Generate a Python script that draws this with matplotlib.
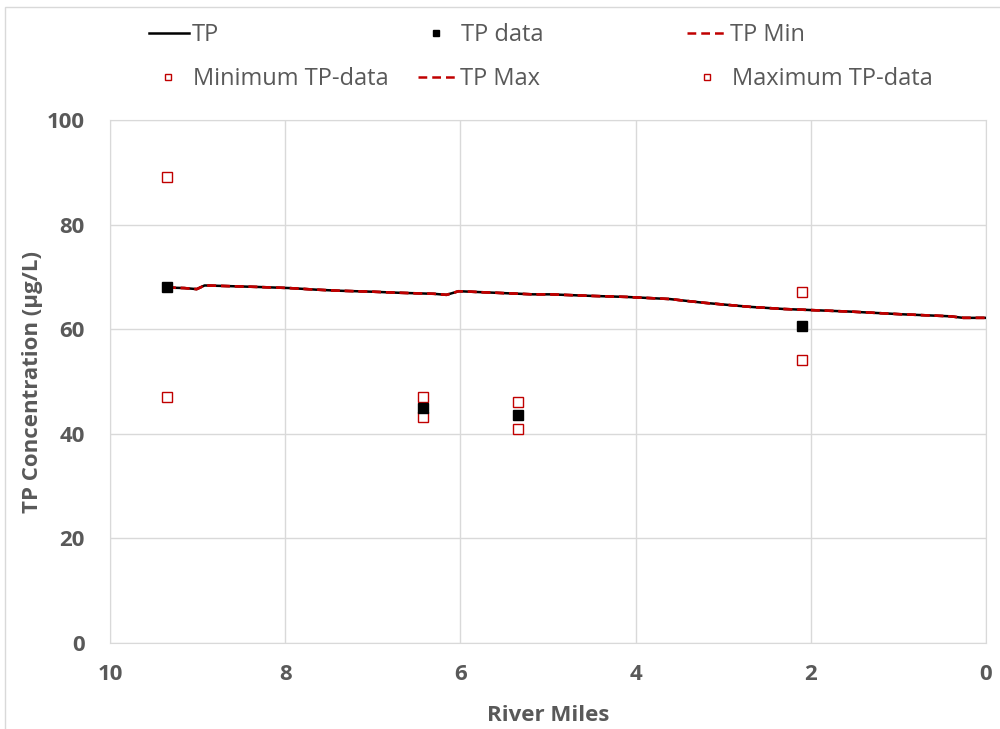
import matplotlib.pyplot as plt
from matplotlib.patches import Rectangle

# model profile (river mile, TP ug/L)
tp_miles = [9.35, 9.15, 9.01, 8.92, 8.70, 8.29, 7.95, 7.65, 7.40, 7.00, 6.70, 6.30, 6.16,
            6.02, 5.60, 5.17, 4.98, 4.50, 4.10, 3.61, 3.23, 2.69, 2.31, 2.01, 1.55, 0.98,
            0.41, 0.26, 0.0]
tp_model = [68.0, 67.9, 67.7, 68.4, 68.3, 68.1, 67.9, 67.6, 67.4, 67.2, 67.0, 66.8, 66.6,
            67.3, 67.0, 66.7, 66.7, 66.4, 66.2, 65.8, 65.1, 64.3, 63.9, 63.7, 63.4, 62.9,
            62.5, 62.2, 62.2]
tp_min = tp_model
tp_max = tp_model

# observed data
obs_miles = [9.35, 6.43, 5.34, 2.10]
obs_tp = [68.2, 45.0, 43.6, 60.6]
obs_min = [47.1, 43.2, 41.0, 54.1]
obs_max = [89.1, 47.1, 46.1, 67.2]

gray = '#595959'
red = '#c00000'
plt.rcParams['font.family'] = ['Open Sans', 'DejaVu Sans']

fig = plt.figure(figsize=(10, 7.29), dpi=100)
ax = fig.add_axes([0.110, 0.118, 0.876, 0.717])

# black model line with the red dashed min/max on top
h_tp, = ax.plot(tp_miles, tp_model, color='black', lw=1.8, zorder=3)
h_min, = ax.plot(tp_miles, tp_min, color=red, lw=1.8, ls=(0, (3.5, 2)), zorder=4)
h_max, = ax.plot(tp_miles, tp_max, color=red, lw=1.8, ls=(0, (3.5, 2)), zorder=4)
h_data, = ax.plot(obs_miles, obs_tp, 's', color='black', ms=7.5, zorder=6)
h_omin, = ax.plot(obs_miles, obs_min, 's', mfc='white', mec=red, mew=1.0, ms=7, zorder=5)
h_omax, = ax.plot(obs_miles, obs_max, 's', mfc='white', mec=red, mew=1.0, ms=7, zorder=5)

ax.set_xlim(10, 0)
ax.set_ylim(0, 100)
ax.set_xticks([10, 8, 6, 4, 2, 0])
ax.set_yticks([0, 20, 40, 60, 80, 100])
ax.grid(True, color='#d9d9d9', lw=1)
ax.set_axisbelow(True)
for s in ax.spines.values():
    s.set_color('#d9d9d9')
ax.tick_params(length=0, labelsize=16, labelcolor=gray)
ax.tick_params(axis='x', pad=15)
ax.tick_params(axis='y', pad=18)
for lab in ax.get_xticklabels() + ax.get_yticklabels():
    lab.set_fontweight('bold')
ax.set_xlabel('River Miles', fontsize=16, fontweight='bold', color=gray)
ax.set_ylabel('TP Concentration (µg/L)', fontsize=16, fontweight='bold', color=gray)
ax.xaxis.set_label_coords(0.5, -0.118)
ax.yaxis.set_label_coords(-0.076, 0.5)

# legend entries placed like the original: (handle, label, left x px, y px, is_marker)
entries = [
    (h_tp, 'TP', 149, 35, False),
    (h_data, 'TP data', 430, 35, True),
    (h_min, 'TP Min', 687, 35, False),
    (h_omin, 'Minimum TP-data', 162, 79, True),
    (h_max, 'TP Max', 418, 79, False),
    (h_omax, 'Maximum TP-data', 701, 79, True),
]
for h, lbl, x, y, is_marker in entries:
    fig.legend(handles=[h], labels=[lbl], loc='center left',
               bbox_to_anchor=(x / 1000, 1 - y / 729),
               frameon=False, borderpad=0, borderaxespad=0,
               handlelength=0.55 if is_marker else 1.7,
               handletextpad=0.75 if is_marker else 0.1,
               markerscale=0.65, fontsize=17, labelcolor=gray)

# chart border
fig.patches.append(Rectangle((0.005, -0.02), 1.1, 1 - 7 / 729 + 0.02, transform=fig.transFigure,
                             fill=False, edgecolor='#d9d9d9', lw=1))

fig.savefig('out.png', dpi=100)
